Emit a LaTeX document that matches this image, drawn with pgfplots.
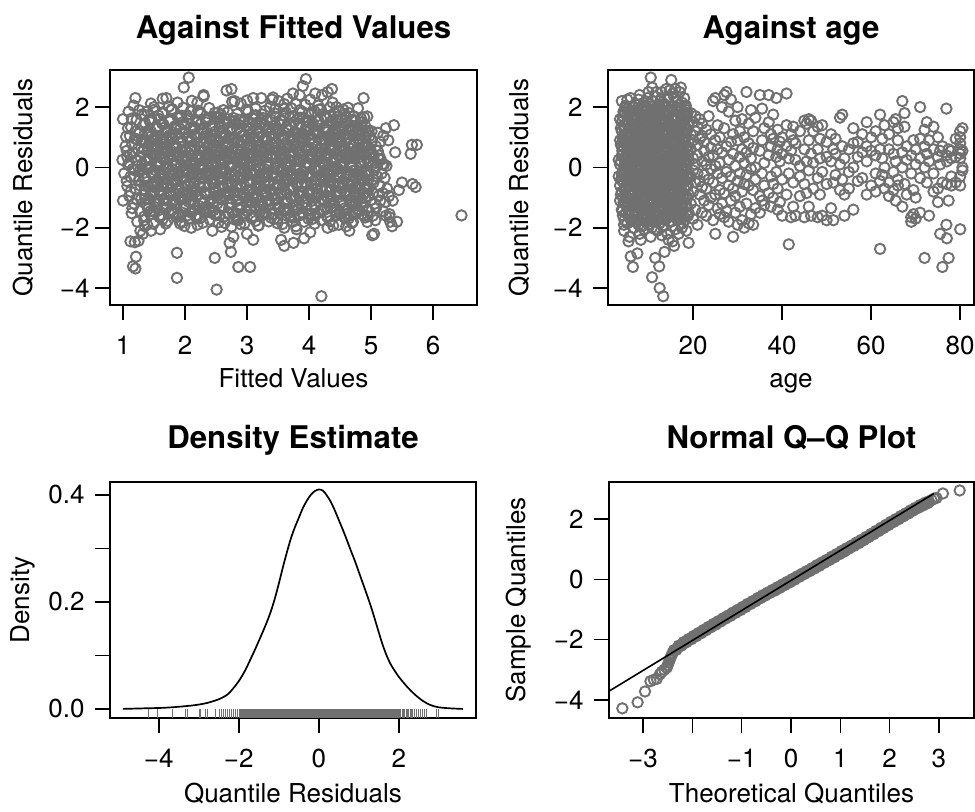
\documentclass[border=0pt]{standalone}
\usepackage{fontspec}
\setmainfont{TeX Gyre Heros}
\usepackage{pgfplots}
\usepackage{pgfplotstable}
\pgfplotsset{compat=1.18}
\definecolor{ptgray}{RGB}{112,112,112}

\pgfplotstableread[row sep=\\]{
fx res\\
1.00 1.60\\ 0.99 0.25\\ 1.00 -1.10\\ 1.02 -0.20\\ 1.05 1.02\\ 1.06 0.55\\ 1.07 -0.62\\ 1.08 0.08\\ 1.09 1.85\\ 1.10 -0.95\\
1.11 0.41\\ 1.12 -0.31\\ 1.13 1.33\\ 1.14 -1.52\\ 1.15 0.77\\ 1.16 -0.05\\ 1.17 2.05\\ 1.18 -1.20\\ 1.19 0.96\\ 1.20 -0.71\\
1.21 0.23\\ 1.22 1.58\\ 1.23 -1.80\\ 1.24 0.62\\ 1.25 -0.44\\ 1.26 1.12\\ 1.27 -0.12\\ 1.28 0.35\\ 1.29 -1.05\\ 1.30 1.75\\
1.04 0.70\\ 1.06 -0.45\\ 1.08 1.30\\ 1.10 0.15\\ 1.12 -0.80\\ 1.14 1.62\\ 1.16 0.48\\ 1.18 -0.30\\ 1.20 1.20\\ 1.22 -1.05\\
1.24 0.05\\ 1.26 1.90\\ 1.28 -0.60\\ 1.30 0.88\\ 1.11 1.05\\ 1.15 -1.35\\ 1.23 0.92\\ 1.27 -1.45\\ 1.07 0.35\\ 1.19 -0.10\\
1.16 -3.28\\ 1.20 -3.35\\ 1.21 -2.96\\ 1.12 -2.45\\ 1.19 -2.48\\ 1.25 -2.43\\ 1.20 2.30\\ 1.28 -2.10\\ 1.32 -2.20\\ 1.35 -1.95\\
1.31 0.52\\ 1.34 -0.88\\ 1.33 1.41\\ 1.35 -0.17\\ 1.32 0.93\\ 1.34 -1.63\\ 1.31 0.11\\
1.36 -0.39\\ 1.39 1.07\\ 1.38 -1.24\\ 1.40 0.68\\ 1.37 -0.02\\ 1.39 1.86\\ 1.36 -0.74\\
1.41 0.27\\ 1.44 -1.45\\ 1.43 0.84\\ 1.45 -0.56\\ 1.42 1.58\\ 1.44 0.03\\ 1.41 -1.02\\
1.45 1.19\\ 1.48 -0.23\\ 1.47 0.45\\ 1.49 -1.87\\ 1.46 0.71\\ 1.48 -0.64\\ 1.45 2.12\\
1.50 -0.81\\ 1.53 0.36\\ 1.52 -0.09\\ 1.54 1.34\\ 1.51 -1.31\\ 1.53 0.88\\ 1.50 -0.47\\
1.55 0.64\\ 1.58 -1.12\\ 1.57 1.72\\ 1.59 -0.35\\ 1.56 0.19\\ 1.58 -0.79\\ 1.55 1.05\\
1.60 -0.16\\ 1.63 0.92\\ 1.62 -1.58\\ 1.64 0.49\\ 1.61 -0.61\\ 1.63 1.46\\ 1.60 0.08\\
1.64 1.83\\ 1.67 -0.52\\ 1.66 0.31\\ 1.68 -1.09\\ 1.65 0.76\\ 1.67 -0.21\\ 1.64 2.28\\
1.69 -1.36\\ 1.72 0.58\\ 1.71 -0.68\\ 1.73 1.21\\ 1.70 0.02\\ 1.72 -1.77\\ 1.69 0.97\\
1.74 0.41\\ 1.77 -0.94\\ 1.76 1.53\\ 1.78 -0.29\\ 1.75 0.85\\ 1.77 -1.44\\ 1.74 2.02\\
1.78 -0.55\\ 1.81 1.16\\ 1.80 -0.06\\ 1.82 0.67\\ 1.79 -1.21\\ 1.81 0.24\\ 1.78 1.90\\
1.83 0.73\\ 1.86 -1.65\\ 1.85 0.14\\ 1.87 -0.42\\ 1.84 1.37\\ 1.86 -0.87\\ 1.83 0.50\\
1.88 -0.26\\ 1.91 0.99\\ 1.90 -1.03\\ 1.92 1.68\\ 1.89 0.33\\ 1.91 -0.70\\ 1.88 2.15\\
1.92 1.27\\ 1.95 -0.37\\ 1.94 0.56\\ 1.96 -1.50\\ 1.93 0.04\\ 1.95 0.81\\ 1.92 -1.86\\
1.97 -0.83\\ 2.00 0.21\\ 1.99 1.44\\ 2.01 -0.13\\ 1.98 -1.26\\ 2.00 0.62\\ 1.97 1.98\\
2.02 0.38\\ 2.05 -0.58\\ 2.04 0.95\\ 2.06 -1.71\\ 2.03 1.73\\ 2.05 -0.19\\ 2.02 0.07\\
2.06 -1.14\\ 2.09 1.31\\ 2.08 -0.45\\ 2.10 0.17\\ 2.07 0.86\\ 2.09 -0.92\\ 2.06 1.62\\
2.11 0.60\\ 2.14 -0.32\\ 2.13 -1.39\\ 2.15 1.09\\ 2.12 0.28\\ 2.14 -0.75\\ 2.11 2.21\\
2.16 -0.08\\ 2.19 1.50\\ 2.18 -0.97\\ 2.20 0.44\\ 2.17 -1.60\\ 2.19 0.79\\ 2.16 0.15\\
2.20 1.02\\ 2.23 -1.28\\ 2.22 0.35\\ 2.24 -0.51\\ 2.21 1.88\\ 2.23 -0.04\\ 2.20 -1.90\\
2.25 -0.66\\ 2.28 0.53\\ 2.27 1.25\\ 2.29 -1.16\\ 2.26 0.09\\ 2.28 -0.36\\ 2.25 1.77\\
2.30 0.83\\ 2.33 -0.89\\ 2.32 -0.18\\ 2.34 1.61\\ 2.31 -1.47\\ 2.33 0.26\\ 2.30 2.35\\
2.34 -1.33\\ 2.37 0.12\\ 2.36 0.70\\ 2.38 -0.60\\ 2.35 1.14\\ 2.37 -0.11\\ 2.34 1.49\\
2.39 0.46\\ 2.42 -1.06\\ 2.41 1.38\\ 2.43 -0.25\\ 2.40 -1.73\\ 2.42 0.90\\ 2.39 0.00\\
2.44 -0.48\\ 2.47 0.75\\ 2.46 -1.42\\ 2.48 1.81\\ 2.45 0.32\\ 2.47 -0.82\\ 2.44 1.07\\
2.48 1.18\\ 2.51 -0.15\\ 2.50 0.58\\ 2.52 -1.20\\ 2.49 -0.52\\ 2.51 1.66\\ 2.48 0.20\\
2.53 -0.94\\ 2.56 0.39\\ 2.55 1.52\\ 2.57 -0.33\\ 2.54 0.87\\ 2.56 -1.58\\ 2.53 1.82\\
2.58 0.16\\ 2.61 -0.71\\ 2.60 -1.07\\ 2.62 0.97\\ 2.59 1.33\\ 2.61 -0.20\\ 2.58 1.75\\
2.62 -0.38\\ 2.65 1.10\\ 2.64 -1.84\\ 2.66 0.51\\ 2.63 -0.01\\ 2.65 0.74\\ 2.62 1.90\\
2.67 0.65\\ 2.70 -0.56\\ 2.69 0.27\\ 2.71 -1.34\\ 2.68 1.47\\ 2.70 -0.90\\ 2.67 2.55\\
2.72 -1.19\\ 2.75 0.93\\ 2.74 -0.29\\ 2.76 0.06\\ 2.73 1.22\\ 2.75 -1.96\\ 2.72 0.48\\
2.76 0.31\\ 2.79 -0.79\\ 2.78 1.64\\ 2.80 -0.44\\ 2.77 -1.52\\ 2.79 0.82\\ 2.76 2.18\\
2.81 -0.12\\ 2.84 1.27\\ 2.83 -1.11\\ 2.85 0.60\\ 2.82 -0.66\\ 2.84 0.18\\ 2.81 1.44\\
2.86 0.89\\ 2.89 -1.39\\ 2.88 0.42\\ 2.90 -0.23\\ 2.87 1.58\\ 2.89 -0.87\\ 2.86 -1.75\\
2.90 -0.61\\ 2.93 0.13\\ 2.92 1.05\\ 2.94 -1.62\\ 2.91 0.71\\ 2.93 -0.35\\ 2.90 2.12\\
2.95 0.47\\ 2.98 -1.01\\ 2.97 -0.08\\ 2.99 1.36\\ 2.96 -1.85\\ 2.98 0.92\\ 2.95 0.25\\
3.00 -1.27\\ 3.03 0.66\\ 3.02 1.85\\ 3.04 -0.48\\ 3.01 0.03\\ 3.03 -0.76\\ 3.00 2.22\\
3.04 1.11\\ 3.07 -0.20\\ 3.06 0.37\\ 3.08 -1.15\\ 3.05 0.79\\ 3.07 -1.68\\ 3.04 1.50\\
3.09 -0.44\\ 3.12 0.94\\ 3.11 -0.86\\ 3.13 1.69\\ 3.10 0.19\\ 3.12 -1.31\\ 3.09 0.58\\
3.14 0.22\\ 3.17 -0.63\\ 3.16 1.30\\ 3.18 -1.93\\ 3.15 -0.14\\ 3.17 0.85\\ 3.14 1.95\\
3.18 -0.97\\ 3.21 1.49\\ 3.20 0.07\\ 3.22 -0.39\\ 3.19 1.01\\ 3.21 -1.46\\ 3.18 0.40\\
3.23 0.72\\ 3.26 -0.28\\ 3.25 -1.22\\ 3.27 0.50\\ 3.24 1.76\\ 3.26 -0.70\\ 3.23 2.30\\
3.28 -0.05\\ 3.31 1.19\\ 3.30 -1.55\\ 3.32 0.34\\ 3.29 -0.92\\ 3.31 0.63\\ 3.28 1.41\\
3.32 1.56\\ 3.35 -0.47\\ 3.34 0.15\\ 3.36 -1.08\\ 3.33 0.90\\ 3.35 -1.79\\ 3.32 -0.24\\
3.37 -0.73\\ 3.40 0.41\\ 3.39 1.13\\ 3.41 -0.18\\ 3.38 -1.40\\ 3.40 0.77\\ 3.37 2.00\\
3.42 0.35\\ 3.45 -1.24\\ 3.44 0.81\\ 3.46 1.68\\ 3.43 -0.55\\ 3.45 0.02\\ 3.42 2.32\\
3.46 -1.02\\ 3.49 0.57\\ 3.48 -0.31\\ 3.50 1.26\\ 3.47 0.13\\ 3.49 -1.71\\ 3.46 1.95\\
3.51 0.98\\ 3.54 -0.83\\ 3.53 1.44\\ 3.55 -0.10\\ 3.52 -1.35\\ 3.54 0.45\\ 3.51 2.20\\
3.56 -0.34\\ 3.59 1.71\\ 3.58 -0.64\\ 3.60 0.29\\ 3.57 -1.88\\ 3.59 1.05\\ 3.56 0.60\\
3.60 0.54\\ 3.63 -1.13\\ 3.62 0.11\\ 3.64 1.35\\ 3.61 -0.46\\ 3.63 1.82\\ 3.60 -2.00\\
3.65 -0.88\\ 3.68 1.23\\ 3.67 -0.16\\ 3.69 0.68\\ 3.66 -1.50\\ 3.68 0.20\\ 3.65 2.28\\
3.70 1.41\\ 3.73 -0.40\\ 3.72 0.86\\ 3.74 -1.26\\ 3.71 1.97\\ 3.73 -0.67\\ 3.70 0.03\\
3.74 -0.22\\ 3.77 0.78\\ 3.76 -1.66\\ 3.78 1.15\\ 3.75 0.38\\ 3.77 -0.95\\ 3.74 2.45\\
3.79 0.69\\ 3.82 -0.52\\ 3.81 1.60\\ 3.83 -1.37\\ 3.80 -0.07\\ 3.82 1.02\\ 3.79 2.10\\
3.84 -1.17\\ 3.87 1.34\\ 3.86 0.25\\ 3.88 -0.31\\ 3.85 1.90\\ 3.87 -0.81\\ 3.84 0.55\\
3.88 0.87\\ 3.91 -0.14\\ 3.90 1.12\\ 3.92 -1.80\\ 3.89 0.44\\ 3.91 1.65\\ 3.88 -0.60\\
3.93 -0.49\\ 3.96 1.55\\ 3.95 -1.01\\ 3.97 0.16\\ 3.94 2.08\\ 3.96 -0.27\\ 3.93 0.93\\
3.98 1.24\\ 4.01 -0.74\\ 4.00 0.60\\ 4.02 -1.53\\ 3.99 1.78\\ 4.01 0.07\\ 3.98 -0.30\\
4.02 -0.19\\ 4.05 0.97\\ 4.04 -1.29\\ 4.06 1.47\\ 4.03 0.31\\ 4.05 -0.86\\ 4.02 2.25\\
4.07 0.52\\ 4.10 -1.59\\ 4.09 1.86\\ 4.11 -0.42\\ 4.08 1.08\\ 4.10 -0.09\\ 4.07 0.78\\
4.12 -0.90\\ 4.15 0.34\\ 4.14 1.53\\ 4.16 -1.12\\ 4.13 0.70\\ 4.15 2.05\\ 4.12 -0.58\\
4.16 1.16\\ 4.19 -0.33\\ 4.18 0.48\\ 4.20 -1.75\\ 4.17 1.39\\ 4.19 -0.01\\ 4.16 1.92\\
4.21 -0.67\\ 4.24 1.71\\ 4.23 -1.05\\ 4.25 0.82\\ 4.22 0.19\\ 4.24 -1.42\\ 4.21 2.40\\
4.26 0.38\\ 4.29 -0.98\\ 4.28 1.27\\ 4.30 -0.24\\ 4.27 1.64\\ 4.29 -1.61\\ 4.26 0.90\\
4.30 -1.35\\ 4.33 0.73\\ 4.32 -0.43\\ 4.34 1.99\\ 4.31 0.05\\ 4.33 -0.79\\ 4.30 1.18\\
4.35 0.95\\ 4.38 -0.15\\ 4.37 1.45\\ 4.39 -1.17\\ 4.36 0.60\\ 4.38 2.15\\ 4.35 -0.50\\
4.40 -0.53\\ 4.43 1.32\\ 4.42 -1.48\\ 4.44 0.26\\ 4.41 1.80\\ 4.43 -0.82\\ 4.40 0.70\\
4.44 1.07\\ 4.47 -0.62\\ 4.46 0.42\\ 4.48 -1.90\\ 4.45 1.55\\ 4.47 -0.05\\ 4.44 2.00\\
4.49 -0.29\\ 4.52 0.85\\ 4.51 -1.20\\ 4.53 1.63\\ 4.50 0.12\\ 4.52 -0.70\\ 4.49 1.20\\
4.54 0.64\\ 4.57 -1.36\\ 4.56 1.10\\ 4.58 -0.38\\ 4.55 1.92\\ 4.57 -1.65\\ 4.54 0.33\\
4.58 -0.81\\ 4.61 0.47\\ 4.60 1.48\\ 4.62 -0.17\\ 4.59 -1.44\\ 4.61 0.98\\ 4.58 1.75\\
4.63 0.28\\ 4.66 -0.93\\ 4.65 1.21\\ 4.67 -1.58\\ 4.64 0.66\\ 4.66 -0.20\\ 4.63 1.98\\
4.68 -1.10\\ 4.71 1.04\\ 4.70 -0.46\\ 4.72 0.51\\ 4.69 1.58\\ 4.71 -1.80\\ 4.68 0.08\\
4.72 0.79\\ 4.75 -0.35\\ 4.74 1.36\\ 4.76 -1.22\\ 4.73 0.30\\ 4.75 -0.66\\ 4.72 1.70\\
4.77 -0.60\\ 4.80 0.92\\ 4.79 -1.43\\ 4.81 0.18\\ 4.78 1.25\\ 4.80 -0.98\\ 4.77 0.55\\
4.82 0.46\\ 4.85 -1.16\\ 4.84 1.62\\ 4.86 -0.26\\ 4.83 0.87\\ 4.85 -1.55\\ 4.82 1.10\\
4.86 -0.37\\ 4.89 0.67\\ 4.88 -0.89\\ 4.90 1.41\\ 4.87 -1.30\\ 4.89 0.21\\ 4.86 1.50\\
4.91 0.98\\ 4.94 -0.54\\ 4.93 0.32\\ 4.95 -1.62\\ 4.92 1.18\\ 4.94 -0.12\\ 4.91 0.75\\
4.96 -0.72\\ 4.99 0.43\\ 4.98 1.05\\ 5.00 -1.08\\ 4.97 -0.25\\ 4.99 0.60\\ 4.96 -1.45\\
5.00 0.20\\ 5.03 -0.86\\ 5.02 0.88\\ 5.04 -0.40\\ 5.01 1.20\\ 5.03 -1.60\\ 5.00 0.45\\
5.04 -0.50\\ 5.07 0.15\\ 5.06 -1.20\\ 5.08 0.70\\ 5.05 -0.10\\ 5.07 -1.75\\ 5.04 0.35\\
5.09 0.05\\ 5.12 -0.95\\ 5.11 0.55\\ 5.10 -0.30\\ 5.08 -1.35\\ 5.11 1.15\\
5.14 -0.60\\ 5.16 0.25\\ 5.15 -1.10\\ 5.17 -0.20\\ 5.13 0.40\\
5.19 -0.85\\ 5.21 0.10\\ 5.20 -1.45\\ 5.22 -0.35\\
5.24 -1.60\\ 5.26 -0.70\\ 5.25 0.05\\ 5.23 -1.15\\
5.29 -0.95\\ 5.31 -1.80\\ 5.30 -1.55\\
2.06 2.98\\ 1.98 2.65\\ 2.75 2.60\\ 3.95 2.93\\ 3.90 2.70\\ 4.37 2.60\\ 4.30 2.50\\ 4.88 2.30\\ 2.30 2.40\\ 3.10 2.30\\
3.40 2.25\\ 1.70 2.30\\ 2.80 2.20\\ 1.50 2.00\\ 3.85 2.40\\ 4.10 2.45\\ 2.20 2.15\\ 3.60 2.10\\
2.51 -4.05\\ 4.20 -4.27\\ 1.87 -3.66\\ 1.87 -2.83\\ 2.48 -3.00\\ 2.86 -3.30\\ 3.05 -3.30\\ 2.74 -2.80\\ 2.72 -2.50\\ 2.78 -2.30\\
2.44 -2.10\\ 3.60 -2.60\\ 3.75 -2.50\\ 3.92 -2.35\\ 4.02 -2.15\\ 3.55 -2.40\\ 3.10 -2.40\\ 3.00 -2.20\\ 5.02 -2.25\\ 5.05 -2.20\\
5.34 -1.95\\ 5.42 -1.80\\ 5.30 -1.65\\ 4.65 -2.10\\ 4.60 -1.95\\ 2.10 -2.00\\ 1.60 -2.05\\ 1.45 -2.10\\ 3.80 -2.05\\ 4.30 -2.00\\
5.67 -0.55\\ 5.72 -0.65\\ 5.66 0.75\\ 5.74 0.75\\ 5.64 0.45\\ 5.39 0.50\\ 5.24 1.30\\ 5.37 1.40\\ 5.45 -0.75\\ 5.50 -0.50\\
5.35 -1.10\\ 5.28 0.90\\ 5.20 1.05\\ 5.15 0.85\\ 5.12 0.30\\ 5.18 0.10\\ 6.46 -1.59\\
1.355 -1.05\\ 1.355 -0.33\\ 1.355 0.22\\ 1.355 0.86\\ 1.355 1.47\\
1.405 -1.38\\ 1.405 -0.63\\ 1.405 -0.04\\ 1.405 0.57\\ 1.405 1.12\\
1.455 -0.82\\ 1.455 -0.17\\ 1.455 0.47\\ 1.455 1.03\\ 1.455 1.61\\
1.505 -1.48\\ 1.505 -0.78\\ 1.505 -0.22\\ 1.505 0.38\\ 1.505 0.97\\
1.555 -1.22\\ 1.555 -0.51\\ 1.555 0.12\\ 1.555 0.69\\ 1.555 1.31\\
1.605 -0.93\\ 1.605 -0.27\\ 1.605 0.33\\ 1.605 0.94\\ 1.605 -1.62\\
1.655 -1.07\\ 1.655 -0.36\\ 1.655 0.26\\ 1.655 0.83\\ 1.655 1.42\\
1.705 -1.33\\ 1.705 -0.66\\ 1.705 -0.07\\ 1.705 0.53\\ 1.705 1.17\\
1.755 -0.87\\ 1.755 -0.13\\ 1.755 0.44\\ 1.755 1.07\\ 1.755 1.58\\
1.805 -1.52\\ 1.805 -0.81\\ 1.805 -0.18\\ 1.805 0.41\\ 1.805 0.93\\
1.855 -1.18\\ 1.855 -0.48\\ 1.855 0.08\\ 1.855 0.72\\ 1.855 1.28\\
1.905 -0.97\\ 1.905 -0.23\\ 1.905 0.37\\ 1.905 0.98\\ 1.905 -1.57\\
1.955 -1.02\\ 1.955 -0.38\\ 1.955 0.23\\ 1.955 0.88\\ 1.955 1.49\\
2.005 -1.36\\ 2.005 -0.61\\ 2.005 -0.03\\ 2.005 0.59\\ 2.005 1.13\\
2.055 -0.84\\ 2.055 -0.16\\ 2.055 0.48\\ 2.055 1.02\\ 2.055 1.63\\
2.105 -1.47\\ 2.105 -0.77\\ 2.105 -0.24\\ 2.105 0.39\\ 2.105 0.96\\
2.155 -1.23\\ 2.155 -0.53\\ 2.155 0.13\\ 2.155 0.68\\ 2.155 1.33\\
2.205 -0.91\\ 2.205 -0.28\\ 2.205 0.32\\ 2.205 0.97\\ 2.205 -1.63\\
2.255 -1.06\\ 2.255 -0.32\\ 2.255 0.27\\ 2.255 0.84\\ 2.255 1.44\\
2.305 -1.37\\ 2.305 -0.64\\ 2.305 -0.06\\ 2.305 0.54\\ 2.305 1.16\\
2.355 -0.86\\ 2.355 -0.14\\ 2.355 0.43\\ 2.355 1.06\\ 2.355 1.59\\
2.405 -1.49\\ 2.405 -0.82\\ 2.405 -0.19\\ 2.405 0.42\\ 2.405 0.94\\
2.455 -1.19\\ 2.455 -0.49\\ 2.455 0.09\\ 2.455 0.71\\ 2.455 1.29\\
2.505 -0.96\\ 2.505 -0.24\\ 2.505 0.36\\ 2.505 0.92\\ 2.505 -1.58\\
2.555 -1.03\\ 2.555 -0.37\\ 2.555 0.24\\ 2.555 0.87\\ 2.555 1.46\\
2.605 -1.34\\ 2.605 -0.62\\ 2.605 -0.02\\ 2.605 0.58\\ 2.605 1.14\\
2.655 -0.83\\ 2.655 -0.18\\ 2.655 0.46\\ 2.655 1.04\\ 2.655 1.62\\
2.705 -1.51\\ 2.705 -0.79\\ 2.705 -0.21\\ 2.705 0.37\\ 2.705 0.98\\
2.755 -1.21\\ 2.755 -0.52\\ 2.755 0.11\\ 2.755 0.67\\ 2.755 1.32\\
2.805 -0.94\\ 2.805 -0.26\\ 2.805 0.34\\ 2.805 0.96\\ 2.805 -1.59\\
2.855 -1.08\\ 2.855 -0.34\\ 2.855 0.28\\ 2.855 0.82\\ 2.855 1.43\\
2.905 -1.32\\ 2.905 -0.67\\ 2.905 -0.08\\ 2.905 0.56\\ 2.905 1.18\\
2.955 -0.88\\ 2.955 -0.12\\ 2.955 0.42\\ 2.955 1.08\\ 2.955 1.57\\
3.005 -1.46\\ 3.005 -0.76\\ 3.005 -0.23\\ 3.005 0.43\\ 3.005 0.92\\
3.055 -1.17\\ 3.055 -0.47\\ 3.055 0.07\\ 3.055 0.73\\ 3.055 1.27\\
3.105 -0.98\\ 3.105 -0.22\\ 3.105 0.38\\ 3.105 0.99\\ 3.105 -1.61\\
3.155 -1.04\\ 3.155 -0.39\\ 3.155 0.21\\ 3.155 0.89\\ 3.155 1.48\\
3.205 -1.39\\ 3.205 -0.60\\ 3.205 -0.01\\ 3.205 0.55\\ 3.205 1.11\\
3.255 -0.81\\ 3.255 -0.19\\ 3.255 0.49\\ 3.255 1.01\\ 3.255 1.64\\
3.305 -1.53\\ 3.305 -0.83\\ 3.305 -0.17\\ 3.305 0.36\\ 3.305 0.99\\
3.355 -1.24\\ 3.355 -0.54\\ 3.355 0.14\\ 3.355 0.66\\ 3.355 1.34\\
3.405 -0.92\\ 3.405 -0.29\\ 3.405 0.31\\ 3.405 0.93\\ 3.405 -1.56\\
3.455 -1.09\\ 3.455 -0.31\\ 3.455 0.29\\ 3.455 0.81\\ 3.455 1.41\\
3.505 -1.31\\ 3.505 -0.68\\ 3.505 -0.09\\ 3.505 0.52\\ 3.505 1.19\\
3.555 -0.89\\ 3.555 -0.11\\ 3.555 0.41\\ 3.555 1.09\\ 3.555 1.56\\
3.605 -1.45\\ 3.605 -0.75\\ 3.605 -0.25\\ 3.605 0.44\\ 3.605 0.91\\
3.655 -1.16\\ 3.655 -0.46\\ 3.655 0.06\\ 3.655 0.74\\ 3.655 1.26\\
3.705 -0.99\\ 3.705 -0.21\\ 3.705 0.39\\ 3.705 1.00\\ 3.705 -1.64\\
3.755 -1.01\\ 3.755 -0.40\\ 3.755 0.20\\ 3.755 0.90\\ 3.755 1.50\\
3.805 -1.40\\ 3.805 -0.59\\ 3.805 0.00\\ 3.805 0.60\\ 3.805 1.10\\
3.855 -0.80\\ 3.855 -0.20\\ 3.855 0.50\\ 3.855 1.00\\ 3.855 1.65\\
3.905 -1.54\\ 3.905 -0.84\\ 3.905 -0.16\\ 3.905 0.35\\ 3.905 1.00\\
3.955 -1.25\\ 3.955 -0.55\\ 3.955 0.15\\ 3.955 0.65\\ 3.955 1.35\\
4.005 -0.90\\ 4.005 -0.30\\ 4.005 0.30\\ 4.005 0.91\\ 4.005 -1.55\\
4.055 -1.10\\ 4.055 -0.30\\ 4.055 0.30\\ 4.055 0.80\\ 4.055 1.40\\
4.105 -1.30\\ 4.105 -0.69\\ 4.105 -0.10\\ 4.105 0.51\\ 4.105 1.20\\
4.155 -0.90\\ 4.155 -0.10\\ 4.155 0.40\\ 4.155 1.10\\ 4.155 1.55\\
4.205 -1.44\\ 4.205 -0.74\\ 4.205 -0.26\\ 4.205 0.45\\ 4.205 0.90\\
4.255 -1.15\\ 4.255 -0.45\\ 4.255 0.05\\ 4.255 0.75\\ 4.255 1.25\\
4.305 -1.00\\ 4.305 -0.20\\ 4.305 0.40\\ 4.305 1.01\\ 4.305 -1.65\\
4.355 -1.05\\ 4.355 -0.41\\ 4.355 0.19\\ 4.355 0.91\\ 4.355 1.51\\
4.405 -1.41\\ 4.405 -0.58\\ 4.405 0.01\\ 4.405 0.61\\ 4.405 1.09\\
4.455 -0.79\\ 4.455 -0.21\\ 4.455 0.51\\ 4.455 0.99\\ 4.455 1.66\\
4.505 -1.55\\ 4.505 -0.85\\ 4.505 -0.15\\ 4.505 0.34\\ 4.505 1.01\\
4.555 -1.26\\ 4.555 -0.56\\ 4.555 0.16\\ 4.555 0.64\\ 4.555 1.36\\
4.605 -0.89\\ 4.605 -0.31\\ 4.605 0.29\\ 4.605 0.90\\ 4.605 -1.54\\
4.655 -1.11\\ 4.655 -0.29\\ 4.655 0.31\\ 4.655 0.79\\ 4.655 1.39\\
4.705 -1.29\\ 4.705 -0.70\\ 4.705 -0.11\\ 4.705 0.50\\ 4.705 1.21\\
4.755 -0.91\\ 4.755 -0.09\\ 4.755 0.39\\ 4.755 1.11\\ 4.755 1.54\\
4.805 -1.43\\ 4.805 -0.73\\ 4.805 -0.27\\ 4.805 0.46\\ 4.805 0.89\\
4.855 -1.14\\ 4.855 -0.44\\ 4.855 0.04\\ 4.855 0.76\\ 4.855 1.24\\
4.905 -1.01\\ 4.905 -0.19\\ 4.905 0.41\\ 4.905 1.02\\ 4.905 -1.66\\
4.955 -0.95\\ 4.955 -0.42\\ 4.955 0.18\\ 4.955 0.70\\ 4.955 1.20\\
1.34 -1.75\\ 1.34 -0.60\\ 1.34 0.60\\ 1.34 1.75\\ 1.39 -1.25\\ 1.39 -0.05\\ 1.39 1.20\\ 1.39 -1.90\\
1.44 -0.90\\ 1.44 0.30\\ 1.44 1.50\\ 1.44 -1.55\\ 1.49 -1.45\\ 1.49 -0.30\\ 1.49 0.90\\ 1.49 1.90\\
1.54 -1.10\\ 1.54 0.10\\ 1.54 1.30\\ 1.54 -0.45\\ 1.59 -1.65\\ 1.59 -0.75\\ 1.59 0.45\\ 1.59 1.60\\
1.64 -1.71\\ 1.64 -0.56\\ 1.64 0.64\\ 1.64 1.79\\ 1.69 -1.21\\ 1.69 -0.01\\ 1.69 1.24\\ 1.69 -1.86\\
1.74 -0.86\\ 1.74 0.34\\ 1.74 1.54\\ 1.74 -1.51\\ 1.79 -1.41\\ 1.79 -0.26\\ 1.79 0.94\\ 1.79 1.94\\
1.84 -1.06\\ 1.84 0.14\\ 1.84 1.34\\ 1.84 -0.41\\ 1.89 -1.61\\ 1.89 -0.71\\ 1.89 0.49\\ 1.89 1.64\\
1.94 -1.79\\ 1.94 -0.64\\ 1.94 0.56\\ 1.94 1.71\\ 1.99 -1.29\\ 1.99 -0.09\\ 1.99 1.16\\ 1.99 -1.94\\
2.04 -0.94\\ 2.04 0.26\\ 2.04 1.46\\ 2.04 -1.59\\ 2.09 -1.49\\ 2.09 -0.34\\ 2.09 0.86\\ 2.09 1.86\\
2.14 -1.14\\ 2.14 0.06\\ 2.14 1.26\\ 2.14 -0.49\\ 2.19 -1.69\\ 2.19 -0.79\\ 2.19 0.41\\ 2.19 1.56\\
2.24 -1.68\\ 2.24 -0.53\\ 2.24 0.67\\ 2.24 1.82\\ 2.29 -1.18\\ 2.29 0.02\\ 2.29 1.27\\ 2.29 -1.83\\
2.34 -0.83\\ 2.34 0.37\\ 2.34 1.57\\ 2.34 -1.48\\ 2.39 -1.38\\ 2.39 -0.23\\ 2.39 0.97\\ 2.39 1.97\\
2.44 -1.03\\ 2.44 0.17\\ 2.44 1.37\\ 2.44 -0.38\\ 2.49 -1.58\\ 2.49 -0.68\\ 2.49 0.52\\ 2.49 1.67\\
2.54 -1.82\\ 2.54 -0.67\\ 2.54 0.53\\ 2.54 1.68\\ 2.59 -1.32\\ 2.59 -0.12\\ 2.59 1.13\\ 2.59 -1.97\\
2.64 -0.97\\ 2.64 0.23\\ 2.64 1.43\\ 2.64 -1.62\\ 2.69 -1.52\\ 2.69 -0.37\\ 2.69 0.83\\ 2.69 1.83\\
2.74 -1.17\\ 2.74 0.03\\ 2.74 1.23\\ 2.74 -0.52\\ 2.79 -1.72\\ 2.79 -0.82\\ 2.79 0.38\\ 2.79 1.53\\
2.84 -1.73\\ 2.84 -0.58\\ 2.84 0.62\\ 2.84 1.77\\ 2.89 -1.23\\ 2.89 -0.03\\ 2.89 1.22\\ 2.89 -1.88\\
2.94 -0.88\\ 2.94 0.32\\ 2.94 1.52\\ 2.94 -1.53\\ 2.99 -1.43\\ 2.99 -0.28\\ 2.99 0.92\\ 2.99 1.92\\
3.04 -1.08\\ 3.04 0.12\\ 3.04 1.32\\ 3.04 -0.43\\ 3.09 -1.63\\ 3.09 -0.73\\ 3.09 0.47\\ 3.09 1.62\\
3.14 -1.77\\ 3.14 -0.62\\ 3.14 0.58\\ 3.14 1.73\\ 3.19 -1.27\\ 3.19 -0.07\\ 3.19 1.18\\ 3.19 -1.92\\
3.24 -0.92\\ 3.24 0.28\\ 3.24 1.48\\ 3.24 -1.57\\ 3.29 -1.47\\ 3.29 -0.32\\ 3.29 0.88\\ 3.29 1.88\\
3.34 -1.12\\ 3.34 0.08\\ 3.34 1.28\\ 3.34 -0.47\\ 3.39 -1.67\\ 3.39 -0.77\\ 3.39 0.43\\ 3.39 1.58\\
3.44 -1.70\\ 3.44 -0.55\\ 3.44 0.65\\ 3.44 1.80\\ 3.49 -1.20\\ 3.49 0.00\\ 3.49 1.25\\ 3.49 -1.85\\
3.54 -0.85\\ 3.54 0.35\\ 3.54 1.55\\ 3.54 -1.50\\ 3.59 -1.40\\ 3.59 -0.25\\ 3.59 0.95\\ 3.59 1.95\\
3.64 -1.05\\ 3.64 0.15\\ 3.64 1.35\\ 3.64 -0.40\\ 3.69 -1.60\\ 3.69 -0.70\\ 3.69 0.50\\ 3.69 1.65\\
3.74 -1.80\\ 3.74 -0.65\\ 3.74 0.55\\ 3.74 1.70\\ 3.79 -1.30\\ 3.79 -0.10\\ 3.79 1.15\\ 3.79 -1.95\\
3.84 -0.95\\ 3.84 0.25\\ 3.84 1.45\\ 3.84 -1.60\\ 3.89 -1.50\\ 3.89 -0.35\\ 3.89 0.85\\ 3.89 1.85\\
3.94 -1.15\\ 3.94 0.05\\ 3.94 1.25\\ 3.94 -0.50\\ 3.99 -1.70\\ 3.99 -0.80\\ 3.99 0.40\\ 3.99 1.55\\
4.04 -1.72\\ 4.04 -0.57\\ 4.04 0.63\\ 4.04 1.78\\ 4.09 -1.22\\ 4.09 -0.02\\ 4.09 1.23\\ 4.09 -1.87\\
4.14 -0.87\\ 4.14 0.33\\ 4.14 1.53\\ 4.14 -1.52\\ 4.19 -1.42\\ 4.19 -0.27\\ 4.19 0.93\\ 4.19 1.93\\
4.24 -1.07\\ 4.24 0.13\\ 4.24 1.33\\ 4.24 -0.42\\ 4.29 -1.62\\ 4.29 -0.72\\ 4.29 0.48\\ 4.29 1.63\\
4.34 -1.78\\ 4.34 -0.63\\ 4.34 0.57\\ 4.34 1.72\\ 4.39 -1.28\\ 4.39 -0.08\\ 4.39 1.17\\ 4.39 -1.93\\
4.44 -0.93\\ 4.44 0.27\\ 4.44 1.47\\ 4.44 -1.58\\ 4.49 -1.48\\ 4.49 -0.33\\ 4.49 0.87\\ 4.49 1.87\\
4.54 -1.13\\ 4.54 0.07\\ 4.54 1.27\\ 4.54 -0.48\\ 4.59 -1.68\\ 4.59 -0.78\\ 4.59 0.42\\ 4.59 1.57\\
4.64 -1.69\\ 4.64 -0.54\\ 4.64 0.66\\ 4.64 1.81\\ 4.69 -1.19\\ 4.69 0.01\\ 4.69 1.26\\ 4.69 -1.84\\
4.74 -0.84\\ 4.74 0.36\\ 4.74 1.56\\ 4.74 -1.49\\ 4.79 -1.39\\ 4.79 -0.24\\ 4.79 0.96\\ 4.79 1.96\\
4.84 -1.04\\ 4.84 0.16\\ 4.84 1.36\\ 4.84 -0.39\\ 4.89 -1.59\\ 4.89 -0.69\\ 4.89 0.51\\ 4.89 1.66\\
4.94 -1.81\\ 4.94 -0.66\\ 4.94 0.54\\ 4.94 1.69\\
}\fitted

\pgfplotstableread[row sep=\\]{
age res\\
3.3 0.25\\ 3.3 -0.30\\
3.6 0.90\\ 3.6 -0.60\\ 3.6 1.60\\ 3.6 -1.10\\ 3.6 0.10\\
3.8 0.20\\ 3.8 -0.90\\ 3.8 1.30\\ 3.8 -0.40\\ 3.8 0.75\\
4.0 0.40\\ 4.0 -1.40\\ 4.0 1.20\\ 4.0 -0.20\\ 4.0 2.20\\ 4.0 -0.80\\ 4.0 0.70\\
4.25 -1.00\\ 4.25 0.55\\ 4.25 1.70\\ 4.25 -0.15\\ 4.25 -1.60\\ 4.25 0.95\\
4.5 -0.50\\ 4.5 1.80\\ 4.5 0.05\\ 4.5 -1.90\\ 4.5 0.95\\ 4.5 -0.15\\ 4.5 1.40\\ 4.5 -2.10\\
4.75 0.35\\ 4.75 -0.65\\ 4.75 2.00\\ 4.75 -1.20\\ 4.75 1.10\\ 4.75 -0.05\\
5.0 1.10\\ 5.0 -0.70\\ 5.0 0.30\\ 5.0 -1.50\\ 5.0 2.00\\ 5.0 -0.35\\ 5.0 0.80\\ 5.0 -1.00\\
5.25 -0.40\\ 5.25 1.45\\ 5.25 0.00\\ 5.25 -1.85\\ 5.25 0.70\\ 5.25 2.25\\
5.5 -0.25\\ 5.5 0.65\\ 5.5 -1.25\\ 5.5 1.55\\ 5.5 0.15\\ 5.5 -2.45\\ 5.5 1.00\\ 5.5 -0.60\\
5.75 1.00\\ 5.75 -1.05\\ 5.75 0.25\\ 5.75 -0.50\\ 5.75 1.80\\ 5.75 -2.30\\
6.0 0.55\\ 6.0 -0.95\\ 6.0 1.90\\ 6.0 -0.10\\ 6.0 -1.70\\ 6.0 0.35\\ 6.0 2.30\\ 6.0 -2.95\\
6.25 -0.20\\ 6.25 0.80\\ 6.25 -1.50\\ 6.25 1.35\\ 6.25 0.10\\ 6.25 -0.85\\
6.5 -0.75\\ 6.5 1.25\\ 6.5 -0.45\\ 6.5 0.75\\ 6.5 -1.35\\ 6.5 0.20\\ 6.5 1.65\\ 6.5 -3.30\\
6.75 0.60\\ 6.75 -1.20\\ 6.75 2.00\\ 6.75 -0.35\\ 6.75 1.00\\ 6.75 -2.00\\
7.0 0.90\\ 7.0 -0.20\\ 7.0 -1.80\\ 7.0 1.45\\ 7.0 0.45\\ 7.0 -1.05\\ 7.0 2.10\\ 7.0 -0.55\\
7.25 -0.65\\ 7.25 1.55\\ 7.25 0.30\\ 7.25 -1.45\\ 7.25 0.85\\ 7.25 -0.10\\
7.5 -1.15\\ 7.5 0.60\\ 7.5 1.05\\ 7.5 -0.40\\ 7.5 1.85\\ 7.5 -2.85\\ 7.5 0.10\\ 7.5 -1.60\\
7.75 1.20\\ 7.75 -0.50\\ 7.75 -1.90\\ 7.75 0.45\\ 7.75 2.25\\ 7.75 -0.95\\
8.0 0.30\\ 8.0 -0.85\\ 8.0 1.50\\ 8.0 -1.30\\ 8.0 0.85\\ 8.0 2.40\\ 8.0 -0.05\\ 8.0 -2.20\\
8.25 -0.25\\ 8.25 0.90\\ 8.25 -1.20\\ 8.25 1.65\\ 8.25 0.05\\ 8.25 -2.40\\
8.5 -0.60\\ 8.5 1.15\\ 8.5 -1.55\\ 8.5 0.50\\ 8.5 -0.25\\ 8.5 1.75\\ 8.5 -1.95\\ 8.5 0.95\\
8.75 0.65\\ 8.75 -0.80\\ 8.75 2.05\\ 8.75 -0.30\\ 8.75 1.25\\ 8.75 -1.60\\
9.0 1.30\\ 9.0 -0.35\\ 9.0 0.15\\ 9.0 -1.10\\ 9.0 2.15\\ 9.0 -0.75\\ 9.0 0.70\\ 9.0 -2.05\\
9.25 -1.35\\ 9.25 0.35\\ 9.25 1.00\\ 9.25 -0.60\\ 9.25 1.90\\ 9.25 -0.05\\
9.5 -0.95\\ 9.5 0.80\\ 9.5 1.95\\ 9.5 -0.15\\ 9.5 -1.65\\ 9.5 0.40\\ 9.5 1.20\\ 9.5 -0.50\\
9.75 0.15\\ 9.75 -1.80\\ 9.75 1.55\\ 9.75 -0.40\\ 9.75 0.75\\ 9.75 2.30\\
10.0 0.60\\ 10.0 -1.20\\ 10.0 1.40\\ 10.0 0.05\\ 10.0 -0.70\\ 10.0 2.50\\ 10.0 -1.90\\ 10.0 0.95\\
10.25 -0.75\\ 10.25 1.15\\ 10.25 -0.10\\ 10.25 2.10\\ 10.25 -1.35\\ 10.25 0.50\\
10.5 -0.30\\ 10.5 1.65\\ 10.5 -1.45\\ 10.5 0.35\\ 10.5 2.98\\ 10.5 -0.85\\ 10.5 1.00\\ 10.5 -2.30\\
10.75 0.90\\ 10.75 -0.45\\ 10.75 1.60\\ 10.75 -2.00\\ 10.75 0.25\\ 10.75 -1.05\\
10.8 2.65\\ 10.8 -3.64\\ 10.8 0.20\\ 10.8 -0.55\\
11.0 0.75\\ 11.0 -0.60\\ 11.0 1.85\\ 11.0 -1.75\\ 11.0 0.15\\ 11.0 -1.15\\ 11.0 1.30\\ 11.0 2.20\\
11.25 -0.15\\ 11.25 1.95\\ 11.25 -1.60\\ 11.25 0.60\\ 11.25 -0.70\\ 11.25 1.25\\
11.5 -1.30\\ 11.5 0.45\\ 11.5 -0.20\\ 11.5 1.50\\ 11.5 -3.00\\ 11.5 0.90\\ 11.5 -0.90\\ 11.5 2.35\\
11.75 1.05\\ 11.75 -1.00\\ 11.75 0.20\\ 11.75 2.50\\ 11.75 -0.35\\ 11.75 -2.05\\
12.0 0.30\\ 12.0 -1.55\\ 12.0 1.10\\ 12.0 -0.45\\ 12.0 2.05\\ 12.0 -2.10\\ 12.0 0.65\\ 12.0 -0.05\\
12.25 -0.60\\ 12.25 0.75\\ 12.25 1.85\\ 12.25 -1.30\\ 12.25 0.05\\ 12.25 1.30\\
12.4 -3.28\\ 12.4 1.70\\ 12.4 -1.00\\ 12.4 0.50\\
12.5 -4.00\\ 12.5 0.95\\ 12.5 -0.35\\ 12.5 1.35\\ 12.5 -1.85\\ 12.5 0.10\\
12.75 0.45\\ 12.75 -1.70\\ 12.75 1.00\\ 12.75 -0.25\\ 12.75 2.25\\ 12.75 -0.80\\
13.0 1.60\\ 13.0 -0.75\\ 13.0 0.25\\ 13.0 -1.40\\ 13.0 2.50\\ 13.0 -0.15\\ 13.0 0.85\\ 13.0 -2.25\\
13.25 -1.05\\ 13.25 1.45\\ 13.25 0.15\\ 13.25 -0.55\\ 13.25 0.90\\ 13.25 -1.95\\
13.3 -4.27\\ 13.6 -2.80\\ 13.3 0.60\\ 13.3 -1.10\\
13.5 -0.50\\ 13.5 1.20\\ 13.5 -1.95\\ 13.5 0.40\\ 13.5 2.10\\ 13.5 -0.95\\ 13.5 1.75\\ 13.5 0.00\\
13.75 0.30\\ 13.75 -0.85\\ 13.75 2.00\\ 13.75 -1.60\\ 13.75 1.20\\ 13.75 -0.15\\
14.0 0.80\\ 14.0 -1.25\\ 14.0 1.55\\ 14.0 -0.30\\ 14.0 2.60\\ 14.0 -1.70\\ 14.0 0.15\\ 14.0 -0.65\\
14.25 -0.40\\ 14.25 1.05\\ 14.25 -1.10\\ 14.25 0.60\\ 14.25 2.30\\ 14.25 -2.20\\
14.5 -0.85\\ 14.5 0.55\\ 14.5 1.90\\ 14.5 -1.50\\ 14.5 0.20\\ 14.5 2.30\\ 14.5 -0.10\\ 14.5 -2.40\\
14.75 1.35\\ 14.75 -0.70\\ 14.75 0.00\\ 14.75 -1.25\\ 14.75 0.85\\ 14.75 2.55\\
15.0 1.05\\ 15.0 -0.45\\ 15.0 0.35\\ 15.0 -1.80\\ 15.0 2.00\\ 15.0 -0.90\\ 15.0 1.45\\ 15.1 2.90\\
15.25 -0.55\\ 15.25 0.45\\ 15.25 1.90\\ 15.25 -1.95\\ 15.25 -0.10\\ 15.25 1.15\\
15.4 -2.45\\ 15.4 0.70\\ 15.4 -0.20\\ 15.4 1.25\\ 15.4 -1.35\\
15.5 -1.05\\ 15.5 0.25\\ 15.5 1.70\\ 15.5 -0.60\\ 15.5 2.45\\ 15.5 -1.60\\ 15.5 0.90\\
15.75 0.80\\ 15.75 -1.15\\ 15.75 2.35\\ 15.75 -0.35\\ 15.75 1.40\\ 15.75 -2.60\\
16.0 0.45\\ 16.0 -1.45\\ 16.0 1.15\\ 16.0 -0.25\\ 16.0 2.60\\ 16.0 -2.05\\ 16.0 0.75\\ 16.0 -0.80\\
16.25 -0.95\\ 16.25 0.30\\ 16.25 1.25\\ 16.25 -1.60\\ 16.25 0.65\\ 16.25 2.00\\
16.5 -0.70\\ 16.5 1.60\\ 16.5 -1.20\\ 16.5 0.05\\ 16.5 2.20\\ 16.5 -0.35\\ 16.5 1.00\\ 16.5 -1.75\\
16.75 0.15\\ 16.75 -0.60\\ 16.75 1.95\\ 16.75 -1.10\\ 16.75 0.95\\ 16.75 -2.20\\
17.0 1.30\\ 17.0 -0.55\\ 17.0 0.60\\ 17.0 -1.60\\ 17.0 2.50\\ 17.0 -0.95\\ 17.0 1.85\\ 17.0 0.15\\
17.25 -1.20\\ 17.25 0.70\\ 17.25 -0.05\\ 17.25 1.70\\ 17.25 -0.75\\ 17.25 2.65\\
17.5 -0.30\\ 17.5 0.95\\ 17.5 -1.35\\ 17.5 1.50\\ 17.5 0.30\\ 17.5 -2.00\\ 17.5 2.15\\ 17.5 -0.80\\
17.75 0.90\\ 17.75 -0.30\\ 17.75 1.20\\ 17.75 -1.85\\ 17.75 0.35\\ 17.75 -0.90\\
18.0 0.50\\ 18.0 -1.05\\ 18.0 1.75\\ 18.0 -0.40\\ 18.0 1.15\\ 18.0 -1.65\\ 18.0 2.30\\ 18.0 0.00\\
18.25 -0.45\\ 18.25 1.60\\ 18.25 0.20\\ 18.25 -1.30\\ 18.25 0.95\\ 18.25 2.00\\
18.5 -0.60\\ 18.5 1.30\\ 18.5 -1.25\\ 18.5 0.70\\ 18.5 -0.10\\ 18.5 1.90\\ 18.5 -2.10\\
18.75 0.55\\ 18.75 -1.00\\ 18.75 1.25\\ 18.75 -0.20\\ 18.75 -1.60\\ 18.75 1.80\\
19.0 0.20\\ 19.0 -0.90\\ 19.0 1.45\\ 19.0 -1.50\\ 19.0 0.85\\ 19.0 -0.35\\ 19.0 -2.50\\
4.125 -1.45\\ 4.125 -0.45\\ 4.125 0.55\\ 4.125 1.55\\ 4.375 -1.15\\ 4.375 -0.15\\ 4.375 0.85\\ 4.375 1.85\\
4.625 -1.75\\ 4.625 -0.75\\ 4.625 0.25\\ 4.625 1.25\\ 4.875 -0.95\\ 4.875 0.05\\ 4.875 1.05\\ 4.875 2.05\\
5.125 -1.30\\ 5.125 -0.30\\ 5.125 0.70\\ 5.125 1.70\\ 5.375 -1.60\\ 5.375 -0.60\\ 5.375 0.40\\ 5.375 1.40\\
5.625 -1.42\\ 5.625 -0.48\\ 5.625 0.58\\ 5.625 1.52\\ 5.875 -1.12\\ 5.875 -0.18\\ 5.875 0.88\\ 5.875 1.82\\
6.125 -1.78\\ 6.125 -0.72\\ 6.125 0.22\\ 6.125 1.28\\ 6.375 -0.92\\ 6.375 0.02\\ 6.375 1.08\\ 6.375 2.02\\
6.625 -1.33\\ 6.625 -0.27\\ 6.625 0.73\\ 6.625 1.67\\ 6.875 -1.57\\ 6.875 -0.63\\ 6.875 0.43\\ 6.875 1.37\\
7.125 -1.48\\ 7.125 -0.42\\ 7.125 0.52\\ 7.125 1.58\\ 7.375 -1.18\\ 7.375 -0.12\\ 7.375 0.82\\ 7.375 1.88\\
7.625 -1.72\\ 7.625 -0.78\\ 7.625 0.28\\ 7.625 1.22\\ 7.875 -0.98\\ 7.875 0.08\\ 7.875 1.02\\ 7.875 2.08\\
8.125 -1.27\\ 8.125 -0.33\\ 8.125 0.67\\ 8.125 1.73\\ 8.375 -1.63\\ 8.375 -0.57\\ 8.375 0.37\\ 8.375 1.43\\
8.625 -1.45\\ 8.625 -0.45\\ 8.625 0.55\\ 8.625 1.55\\ 8.875 -1.15\\ 8.875 -0.15\\ 8.875 0.85\\ 8.875 1.85\\
9.125 -1.75\\ 9.125 -0.75\\ 9.125 0.25\\ 9.125 1.25\\ 9.375 -0.95\\ 9.375 0.05\\ 9.375 1.05\\ 9.375 2.05\\
9.625 -1.30\\ 9.625 -0.30\\ 9.625 0.70\\ 9.625 1.70\\ 9.875 -1.60\\ 9.875 -0.60\\ 9.875 0.40\\ 9.875 1.40\\
10.125 -1.42\\ 10.125 -0.48\\ 10.125 0.58\\ 10.125 1.52\\ 10.375 -1.12\\ 10.375 -0.18\\ 10.375 0.88\\ 10.375 1.82\\
10.625 -1.78\\ 10.625 -0.72\\ 10.625 0.22\\ 10.625 1.28\\ 10.875 -0.92\\ 10.875 0.02\\ 10.875 1.08\\ 10.875 2.02\\
11.125 -1.33\\ 11.125 -0.27\\ 11.125 0.73\\ 11.125 1.67\\ 11.375 -1.57\\ 11.375 -0.63\\ 11.375 0.43\\ 11.375 1.37\\
11.625 -1.48\\ 11.625 -0.42\\ 11.625 0.52\\ 11.625 1.58\\ 11.875 -1.18\\ 11.875 -0.12\\ 11.875 0.82\\ 11.875 1.88\\
12.125 -1.72\\ 12.125 -0.78\\ 12.125 0.28\\ 12.125 1.22\\ 12.375 -0.98\\ 12.375 0.08\\ 12.375 1.02\\ 12.375 2.08\\
12.625 -1.27\\ 12.625 -0.33\\ 12.625 0.67\\ 12.625 1.73\\ 12.875 -1.63\\ 12.875 -0.57\\ 12.875 0.37\\ 12.875 1.43\\
13.125 -1.45\\ 13.125 -0.45\\ 13.125 0.55\\ 13.125 1.55\\ 13.375 -1.15\\ 13.375 -0.15\\ 13.375 0.85\\ 13.375 1.85\\
13.625 -1.75\\ 13.625 -0.75\\ 13.625 0.25\\ 13.625 1.25\\ 13.875 -0.95\\ 13.875 0.05\\ 13.875 1.05\\ 13.875 2.05\\
14.125 -1.30\\ 14.125 -0.30\\ 14.125 0.70\\ 14.125 1.70\\ 14.375 -1.60\\ 14.375 -0.60\\ 14.375 0.40\\ 14.375 1.40\\
14.625 -1.42\\ 14.625 -0.48\\ 14.625 0.58\\ 14.625 1.52\\ 14.875 -1.12\\ 14.875 -0.18\\ 14.875 0.88\\ 14.875 1.82\\
15.125 -1.78\\ 15.125 -0.72\\ 15.125 0.22\\ 15.125 1.28\\ 15.375 -0.92\\ 15.375 0.02\\ 15.375 1.08\\ 15.375 2.02\\
15.625 -1.33\\ 15.625 -0.27\\ 15.625 0.73\\ 15.625 1.67\\ 15.875 -1.57\\ 15.875 -0.63\\ 15.875 0.43\\ 15.875 1.37\\
16.125 -1.48\\ 16.125 -0.42\\ 16.125 0.52\\ 16.125 1.58\\ 16.375 -1.18\\ 16.375 -0.12\\ 16.375 0.82\\ 16.375 1.88\\
16.625 -1.72\\ 16.625 -0.78\\ 16.625 0.28\\ 16.625 1.22\\ 16.875 -0.98\\ 16.875 0.08\\ 16.875 1.02\\ 16.875 2.08\\
17.125 -1.27\\ 17.125 -0.33\\ 17.125 0.67\\ 17.125 1.73\\ 17.375 -1.63\\ 17.375 -0.57\\ 17.375 0.37\\ 17.375 1.43\\
17.625 -1.45\\ 17.625 -0.45\\ 17.625 0.55\\ 17.625 1.55\\ 17.875 -1.15\\ 17.875 -0.15\\ 17.875 0.85\\ 17.875 1.85\\
18.125 -1.75\\ 18.125 -0.75\\ 18.125 0.25\\ 18.125 1.25\\ 18.375 -0.95\\ 18.375 0.05\\ 18.375 1.05\\ 18.375 2.05\\
18.625 -1.30\\ 18.625 -0.30\\ 18.625 0.70\\ 18.625 1.70\\ 18.875 -1.60\\ 18.875 -0.60\\ 18.875 0.40\\ 18.875 1.40\\
19.5 0.60\\ 19.5 -1.20\\ 19.5 1.10\\ 19.5 -0.30\\ 19.5 1.80\\
20.0 -0.80\\ 20.0 0.30\\ 20.0 1.50\\ 20.0 -1.70\\ 20.0 0.90\\ 20.0 -0.10\\
20.5 1.20\\ 20.5 -0.50\\ 20.5 0.10\\ 20.5 -1.40\\ 20.5 1.70\\
21.0 -0.20\\ 21.0 0.75\\ 21.0 -1.90\\ 21.0 1.35\\ 21.0 0.40\\
21.5 0.95\\ 21.5 -0.90\\ 21.5 1.60\\ 21.5 -0.45\\
22.0 -1.50\\ 22.0 0.20\\ 22.0 1.05\\ 22.0 -0.65\\ 22.0 1.45\\
22.5 0.55\\ 22.5 -1.10\\ 22.5 -0.25\\ 22.5 0.85\\
23.0 -0.70\\ 23.0 1.25\\ 23.0 0.10\\ 23.0 -1.60\\
23.5 0.35\\ 23.5 -0.40\\ 23.5 1.70\\ 23.5 -1.25\\
24.0 -1.00\\ 24.0 0.65\\ 24.0 -0.05\\ 24.0 1.10\\
24.5 2.20\\ 24.5 -1.75\\ 24.5 0.40\\ 24.5 -0.50\\
25.0 2.30\\ 25.0 -2.20\\ 25.0 0.90\\ 25.0 -0.90\\ 25.0 0.05\\
25.5 -1.35\\ 25.5 1.40\\ 25.5 -0.20\\ 25.5 0.60\\
26.0 0.15\\ 26.0 -1.55\\ 26.0 1.00\\ 26.0 -0.75\\
26.5 2.00\\ 26.5 -0.35\\ 26.5 0.50\\ 26.5 -1.20\\
27.0 -0.85\\ 27.0 1.30\\ 27.0 2.40\\ 27.0 -1.65\\
27.5 0.70\\ 27.5 -0.15\\ 27.5 -1.45\\ 27.5 2.50\\
28.0 1.85\\ 28.0 -0.60\\ 28.0 0.25\\ 28.0 -1.80\\
28.5 -1.10\\ 28.5 0.85\\ 28.5 2.25\\ 28.5 -0.30\\
29.0 0.45\\ 29.0 -2.30\\ 29.0 -0.70\\ 29.0 1.10\\
29.5 -1.50\\ 29.5 0.05\\ 29.5 1.55\\ 29.5 -0.95\\
30.0 0.90\\ 30.0 -0.45\\ 30.0 -1.90\\ 30.0 2.00\\
30.5 -0.20\\ 30.5 1.20\\ 30.5 -1.30\\ 30.5 0.35\\
31.0 1.60\\ 31.0 -0.80\\ 31.0 0.60\\ 31.0 -1.75\\
31.5 -0.55\\ 31.5 0.15\\ 31.5 1.00\\ 31.5 -2.00\\
32.0 2.50\\ 32.0 -1.20\\ 32.0 0.50\\ 32.0 -0.25\\
32.5 -1.85\\ 32.5 0.80\\ 32.5 1.45\\ 32.5 -0.60\\
33.0 0.30\\ 33.0 -1.55\\ 33.0 -0.05\\ 33.0 1.90\\
33.5 -1.90\\ 33.5 0.65\\ 33.5 -0.75\\ 33.5 1.20\\
34.0 0.00\\ 34.0 -1.35\\ 34.0 1.65\\ 34.0 -0.40\\
35.0 2.40\\ 35.0 0.55\\ 35.0 -0.95\\ 35.0 -1.50\\
35.5 1.95\\ 35.5 -0.20\\ 35.5 0.90\\ 35.5 -1.10\\
36.0 -0.60\\ 36.0 1.30\\ 36.0 0.15\\ 36.0 -1.25\\
37.0 1.50\\ 37.0 -0.85\\ 37.0 2.40\\ 37.0 0.40\\
37.5 -0.30\\ 37.5 1.10\\ 37.5 -1.30\\ 37.5 0.70\\
38.0 0.95\\ 38.0 -0.55\\ 38.0 1.75\\ 38.0 -1.00\\
38.7 2.30\\ 38.7 -0.15\\ 38.7 0.35\\
39.0 -1.40\\ 39.0 0.60\\ 39.0 -0.70\\ 39.0 1.25\\
39.5 0.20\\ 39.5 -1.15\\ 39.5 0.85\\
40.0 1.00\\ 40.0 -0.40\\ 40.0 -1.60\\ 40.0 0.45\\
41.0 2.45\\ 41.0 0.70\\ 41.0 -0.90\\ 41.0 1.40\\
41.5 -2.55\\ 41.5 -0.20\\ 41.5 0.30\\
42.0 1.10\\ 42.0 -1.65\\ 42.0 0.55\\
42.5 -0.50\\ 42.5 0.90\\ 42.5 -1.30\\ 42.5 1.35\\
43.0 0.25\\ 43.0 -1.60\\ 43.0 0.80\\
44.0 -0.95\\ 44.0 1.20\\ 44.0 0.05\\ 44.0 -0.30\\
45.0 1.55\\ 45.0 -1.65\\ 45.0 0.60\\ 45.0 -0.55\\
45.5 1.45\\ 45.5 0.20\\ 45.5 -0.85\\
46.0 1.60\\ 46.0 -1.30\\ 46.0 0.90\\ 46.0 -0.10\\
46.5 1.55\\ 46.5 0.45\\ 46.5 -1.60\\
47.0 -0.70\\ 47.0 1.20\\ 47.0 0.15\\
48.0 1.35\\ 48.0 -1.65\\ 48.0 0.60\\ 48.0 -0.35\\
48.5 0.95\\ 48.5 -0.90\\ 48.5 0.30\\
49.0 1.40\\ 49.0 -0.15\\ 49.0 -1.60\\
50.0 0.85\\ 50.0 -0.55\\ 50.0 0.35\\ 50.0 -1.75\\
51.0 1.10\\ 51.0 -1.35\\ 51.0 0.20\\
51.5 -1.75\\ 51.5 0.60\\ 51.5 -0.50\\
52.0 0.95\\ 52.0 -0.25\\ 52.0 0.45\\
53.0 1.65\\ 53.0 -0.75\\ 53.0 0.10\\
53.5 1.75\\ 53.5 -0.40\\ 53.5 0.70\\
54.0 -1.60\\ 54.0 0.30\\ 54.0 -0.90\\
55.0 0.60\\ 55.0 -0.15\\ 55.0 -0.70\\
56.0 1.30\\ 56.0 -1.40\\ 56.0 0.00\\ 56.0 0.80\\
57.0 -0.45\\ 57.0 0.35\\ 57.0 0.85\\
58.0 1.10\\ 58.0 -0.35\\ 58.0 0.50\\
59.0 -0.90\\ 59.0 0.70\\ 59.0 1.50\\ 59.0 0.20\\
60.0 0.55\\ 60.0 -0.60\\ 60.0 1.00\\
61.0 -0.20\\ 61.0 1.20\\ 61.0 -0.80\\ 61.0 0.40\\
62.0 -2.70\\ 62.0 1.75\\ 62.0 0.60\\ 62.0 -0.45\\
62.5 0.95\\ 62.5 -0.25\\ 62.5 0.30\\
63.0 1.40\\ 63.0 -0.70\\ 63.0 0.00\\
64.0 -0.50\\ 64.0 0.60\\ 64.0 1.10\\ 64.0 -0.95\\
65.0 1.50\\ 65.0 -0.15\\ 65.0 0.45\\ 65.0 -0.75\\
65.5 1.60\\ 65.5 -1.10\\ 65.5 0.20\\
66.0 0.90\\ 66.0 -0.40\\ 66.0 1.30\\ 66.0 -0.60\\
67.0 2.20\\ 67.0 -1.30\\ 67.0 0.50\\ 67.0 0.00\\
67.5 1.80\\ 67.5 -0.55\\ 67.5 1.35\\
68.0 0.25\\ 68.0 -0.90\\ 68.0 0.70\\
69.0 -1.65\\ 69.0 -1.80\\ 69.0 0.40\\ 69.0 -0.20\\
69.5 -1.55\\ 69.5 0.90\\ 69.5 -0.75\\
70.0 -1.70\\ 70.0 0.10\\ 70.0 0.60\\ 70.0 -1.00\\
71.0 2.00\\ 71.0 -1.50\\ 71.0 0.95\\ 71.0 0.30\\ 71.0 -0.35\\
72.0 -3.00\\ 72.0 1.25\\ 72.0 0.00\\ 72.0 0.70\\
72.5 0.45\\ 72.5 -0.50\\ 72.5 1.50\\
73.0 -1.60\\ 73.0 0.20\\ 73.0 0.90\\
74.0 1.35\\ 74.0 -0.20\\ 74.0 0.60\\ 74.0 -0.80\\
75.0 -0.70\\ 75.0 0.35\\ 75.0 1.00\\ 75.0 -1.15\\
75.5 -2.20\\ 75.5 0.55\\ 75.5 0.10\\
76.0 -3.30\\ 76.0 -0.50\\ 76.0 0.70\\
76.9 1.95\\ 76.9 -1.90\\ 76.9 0.40\\
77.0 -2.35\\ 77.0 -0.55\\ 77.0 0.20\\
77.4 -3.00\\ 77.4 0.60\\ 77.4 -1.10\\
78.0 0.30\\ 78.0 -0.60\\ 78.0 0.55\\ 78.0 -0.30\\
79.0 -0.50\\ 79.0 0.95\\ 79.0 0.35\\
80.0 -2.05\\ 80.0 1.20\\ 80.0 1.00\\ 80.0 0.30\\ 80.0 -0.30\\ 80.0 0.60\\ 80.0 -0.60\\ 80.0 0.80\\ 80.0 0.45\\
80.5 1.30\\ 80.5 0.00\\ 80.5 0.55\\ 80.5 -0.10\\
}\agetab

\pgfplotstableread[row sep=\\]{
q d\\
-4.9 0.000\\ -4.4 0.001\\ -3.9 0.002\\ -3.5 0.004\\ -3.1 0.007\\ -2.8 0.011\\ -2.5 0.018\\ -2.3 0.026\\
-2.2 0.033\\ -2.1 0.042\\ -2.0 0.052\\ -1.9 0.064\\ -1.8 0.078\\ -1.7 0.094\\ -1.6 0.110\\ -1.5 0.127\\
-1.4 0.144\\ -1.3 0.162\\ -1.2 0.182\\ -1.1 0.206\\ -1.0 0.234\\
-0.9 0.264\\ -0.8 0.292\\ -0.7 0.318\\ -0.6 0.339\\ -0.5 0.357\\ -0.4 0.375\\ -0.3 0.389\\ -0.2 0.400\\
-0.1 0.407\\ 0.0 0.410\\ 0.1 0.408\\ 0.2 0.399\\ 0.3 0.387\\ 0.4 0.371\\ 0.5 0.353\\ 0.6 0.335\\
0.7 0.316\\ 0.8 0.296\\ 0.9 0.277\\ 1.0 0.256\\ 1.1 0.235\\ 1.2 0.214\\ 1.3 0.192\\ 1.4 0.168\\
1.5 0.143\\ 1.6 0.119\\ 1.7 0.099\\ 1.8 0.083\\ 1.9 0.071\\ 2.0 0.060\\ 2.2 0.042\\ 2.4 0.027\\
2.6 0.015\\ 2.8 0.007\\ 3.0 0.003\\ 3.3 0.001\\ 3.6 0.000\\
}\denstab

\pgfplotstableread[row sep=\\]{
t s\\
-3.42 -4.28\\ -3.11 -4.08\\ -2.96 -3.72\\ -2.85 -3.38\\ -2.78 -3.33\\ -2.72 -3.30\\ -2.66 -3.15\\ -2.62 -3.07\\
-2.57 -3.00\\ -2.52 -2.93\\ -2.50 -2.85\\ -2.48 -2.76\\ -2.46 -2.67\\ -2.44 -2.59\\ -2.42 -2.51\\ -2.40 -2.44\\
-2.35 -2.35\\ -2.30 -2.27\\ -2.25 -2.21\\ -2.20 -2.15\\ -2.15 -2.09\\ -2.10 -2.03\\ -2.05 -1.98\\ -2.00 -1.93\\
-1.95 -1.88\\ -1.90 -1.83\\ -1.85 -1.78\\ -1.80 -1.73\\ -1.75 -1.68\\ -1.70 -1.63\\ -1.65 -1.59\\ -1.60 -1.54\\
-1.55 -1.49\\ -1.50 -1.44\\ -1.45 -1.39\\ -1.40 -1.34\\ -1.35 -1.29\\ -1.30 -1.24\\ -1.25 -1.20\\ -1.20 -1.15\\
-1.15 -1.10\\ -1.10 -1.05\\ -1.05 -1.00\\ -1.00 -0.96\\ -0.95 -0.91\\ -0.90 -0.86\\ -0.85 -0.82\\ -0.80 -0.77\\
-0.75 -0.72\\ -0.70 -0.68\\ -0.65 -0.63\\ -0.60 -0.58\\ -0.55 -0.53\\ -0.50 -0.49\\ -0.45 -0.44\\ -0.40 -0.40\\
-0.35 -0.35\\ -0.30 -0.31\\ -0.25 -0.26\\ -0.20 -0.22\\ -0.15 -0.17\\ -0.10 -0.13\\ -0.05 -0.09\\ 0.00 -0.04\\
0.05 0.00\\ 0.10 0.05\\ 0.15 0.09\\ 0.20 0.14\\ 0.25 0.18\\ 0.30 0.23\\ 0.35 0.27\\ 0.40 0.32\\
0.45 0.36\\ 0.50 0.41\\ 0.55 0.45\\ 0.60 0.50\\ 0.65 0.55\\ 0.70 0.60\\ 0.75 0.64\\ 0.80 0.69\\
0.85 0.73\\ 0.90 0.78\\ 0.95 0.83\\ 1.00 0.88\\ 1.05 0.92\\ 1.10 0.97\\ 1.15 1.02\\ 1.20 1.07\\
1.25 1.12\\ 1.30 1.16\\ 1.35 1.21\\ 1.40 1.26\\ 1.45 1.31\\ 1.50 1.35\\ 1.55 1.40\\ 1.60 1.45\\
1.65 1.50\\ 1.70 1.55\\ 1.75 1.60\\ 1.80 1.65\\ 1.85 1.70\\ 1.90 1.75\\ 1.95 1.80\\ 2.00 1.85\\
2.05 1.90\\ 2.10 1.95\\ 2.15 2.00\\ 2.20 2.04\\ 2.25 2.09\\ 2.30 2.14\\ 2.35 2.19\\ 2.40 2.23\\
2.45 2.28\\ 2.50 2.33\\ 2.55 2.37\\ 2.60 2.41\\ 2.65 2.45\\ 2.70 2.50\\ 2.75 2.54\\ 2.80 2.58\\
2.85 2.63\\ 2.90 2.68\\ 2.95 2.70\\ 3.08 2.85\\ 3.42 2.95\\
-2.375 -2.35\\ -2.325 -2.34\\ -2.275 -2.20\\ -2.225 -2.20\\ -2.175 -2.08\\ -2.125 -2.09\\ -2.075 -1.98\\ -2.025 -1.99\\
-1.975 -1.88\\ -1.925 -1.89\\ -1.875 -1.78\\ -1.825 -1.79\\ -1.775 -1.68\\ -1.725 -1.69\\ -1.675 -1.58\\ -1.625 -1.59\\
-1.575 -1.48\\ -1.525 -1.50\\ -1.475 -1.39\\ -1.425 -1.40\\ -1.375 -1.29\\ -1.325 -1.30\\ -1.275 -1.20\\ -1.225 -1.21\\
-1.175 -1.10\\ -1.125 -1.11\\ -1.075 -1.01\\ -1.025 -1.02\\ -0.975 -0.91\\ -0.925 -0.92\\ -0.875 -0.81\\ -0.825 -0.82\\
-0.775 -0.72\\ -0.725 -0.73\\ -0.675 -0.62\\ -0.625 -0.63\\ -0.575 -0.53\\ -0.525 -0.54\\ -0.475 -0.44\\ -0.425 -0.45\\
-0.375 -0.35\\ -0.325 -0.37\\ -0.275 -0.26\\ -0.225 -0.28\\ -0.175 -0.17\\ -0.125 -0.19\\ -0.075 -0.08\\ -0.025 -0.10\\
0.025 0.01\\ 0.075 -0.01\\ 0.125 0.10\\ 0.175 0.09\\ 0.225 0.19\\ 0.275 0.18\\ 0.325 0.28\\ 0.375 0.27\\
0.425 0.37\\ 0.475 0.36\\ 0.525 0.47\\ 0.575 0.45\\ 0.625 0.56\\ 0.675 0.55\\ 0.725 0.65\\ 0.775 0.64\\
0.825 0.75\\ 0.875 0.73\\ 0.925 0.84\\ 0.975 0.83\\ 1.025 0.94\\ 1.075 0.92\\ 1.125 1.03\\ 1.175 1.02\\
1.225 1.12\\ 1.275 1.11\\ 1.325 1.22\\ 1.375 1.20\\ 1.425 1.31\\ 1.475 1.30\\ 1.525 1.41\\ 1.575 1.40\\
1.625 1.51\\ 1.675 1.50\\ 1.725 1.61\\ 1.775 1.60\\ 1.825 1.71\\ 1.875 1.70\\ 1.925 1.81\\ 1.975 1.80\\
2.025 1.91\\ 2.075 1.90\\ 2.125 2.00\\ 2.175 1.99\\ 2.225 2.10\\ 2.275 2.09\\ 2.325 2.19\\ 2.375 2.18\\
2.425 2.29\\ 2.475 2.28\\ 2.525 2.38\\ 2.575 2.37\\ 2.625 2.47\\ 2.675 2.45\\ 2.725 2.55\\ 2.775 2.53\\
}\qqtab

\pgfplotsset{
  rpanel/.style={
    scale only axis, anchor=south west,
    axis line style={line width=0.75pt},
    tick align=outside, tick pos=left,
    major tick length=7.5pt,
    tick style={black, line width=0.75pt},
    tick label style={font=\fontsize{13}{13}\selectfont},
    xticklabel style={yshift=-4.5pt},
    yticklabel style={xshift=-1.7pt},
    label style={font=\fontsize{13}{13}\selectfont},
    title style={font=\bfseries\fontsize{15.6}{15.6}\selectfont, anchor=base, yshift=-6pt},
  },
  rpts/.style={only marks, mark=o, mark size=2.6pt, draw=ptgray,
    mark options={line width=0.95pt, draw=ptgray}},
}

\begin{document}
\begin{tikzpicture}
\useasboundingbox (0,0) rectangle (487.5pt,405.5pt);

% Panel 1: Against Fitted Values
\begin{axis}[rpanel, at={(55pt,253pt)}, width=183.5pt, height=117.5pt,
  xmin=0.79, xmax=6.71, ymin=-4.56, ymax=3.23,
  xtick={1,2,3,4,5,6}, xticklabels={1,2,3,4,5,6},
  ytick={-4,-2,0,2}, yticklabels={−4,−2,0,2},
  yticklabel style={xshift=2.5pt},
  title={Against Fitted Values}, title style={at={(axis description cs:0.5,1.136)}},
  xlabel={Fitted Values}, xlabel style={at={(axis description cs:0.5,-0.353)}, anchor=base},
  ylabel={Quantile Residuals}, ylabel style={at={(axis description cs:-0.237,0.5)}, anchor=center}]
\addplot[rpts] table[x=fx, y=res] {\fitted};
\end{axis}

% Panel 2: Against age
\begin{axis}[rpanel, at={(304pt,253pt)}, width=183pt, height=117.5pt,
  xmin=0.9, xmax=83.1, ymin=-4.56, ymax=3.23,
  xtick={20,40,60,80}, xticklabels={20,40,60,80},
  ytick={-4,-2,0,2}, yticklabels={−4,−2,0,2},
  title={Against age}, title style={at={(axis description cs:0.5,1.136)}},
  xlabel={age}, xlabel style={at={(axis description cs:0.5,-0.353)}, anchor=base},
  ylabel={Quantile Residuals}, ylabel style={at={(axis description cs:-0.243,0.5)}, anchor=center}]
\addplot[rpts] table[x=age, y=res] {\agetab};
\end{axis}

% Panel 3: Density Estimate
\begin{axis}[rpanel, at={(55pt,46.5pt)}, width=183pt, height=118pt,
  xmin=-5.22, xmax=3.93, ymin=-0.017, ymax=0.424,
  xtick={-4,-2,0,2}, xticklabels={−4,−2,0,2},
  ytick={0,0.1,0.2,0.3,0.4}, yticklabels={0.0,,0.2,,0.4},
  title={Density Estimate}, title style={at={(axis description cs:0.5,1.144)}},
  xlabel={Quantile Residuals}, xlabel style={at={(axis description cs:0.5,-0.360)}, anchor=base},
  ylabel={Density}, ylabel style={at={(axis description cs:-0.238,0.5)}, anchor=center}]
\addplot[only marks, mark=|, mark size=2.2pt, draw=ptgray, mark options={line width=0.3pt, draw=ptgray}]
  table[x=res, y expr=-0.0084] {\fitted};
\addplot[black, line width=0.85pt, smooth, tension=0.5] table[x=q, y=d] {\denstab};
\end{axis}

% Panel 4: Normal Q-Q Plot
\begin{axis}[rpanel, at={(304.5pt,46.5pt)}, width=182.5pt, height=118pt,
  clip marker paths=true,
  xmin=-3.69, xmax=3.71, ymin=-4.6, ymax=3.23,
  xtick={-3,-2,-1,0,1,2,3}, xticklabels={−3,,−1,0,1,2,3},
  ytick={-4,-2,0,2}, yticklabels={−4,−2,0,2},
  title={Normal Q–Q Plot}, title style={at={(axis description cs:0.5,1.144)}},
  xlabel={Theoretical Quantiles}, xlabel style={at={(axis description cs:0.5,-0.360)}, anchor=base},
  ylabel={Sample Quantiles}, ylabel style={at={(axis description cs:-0.247,0.5)}, anchor=center}]
\addplot[rpts] table[x=t, y=s] {\qqtab};
\addplot[black, line width=0.8pt] coordinates {(-3.69,-3.71) (2.90,2.85)};
\end{axis}
\end{tikzpicture}
\end{document}
